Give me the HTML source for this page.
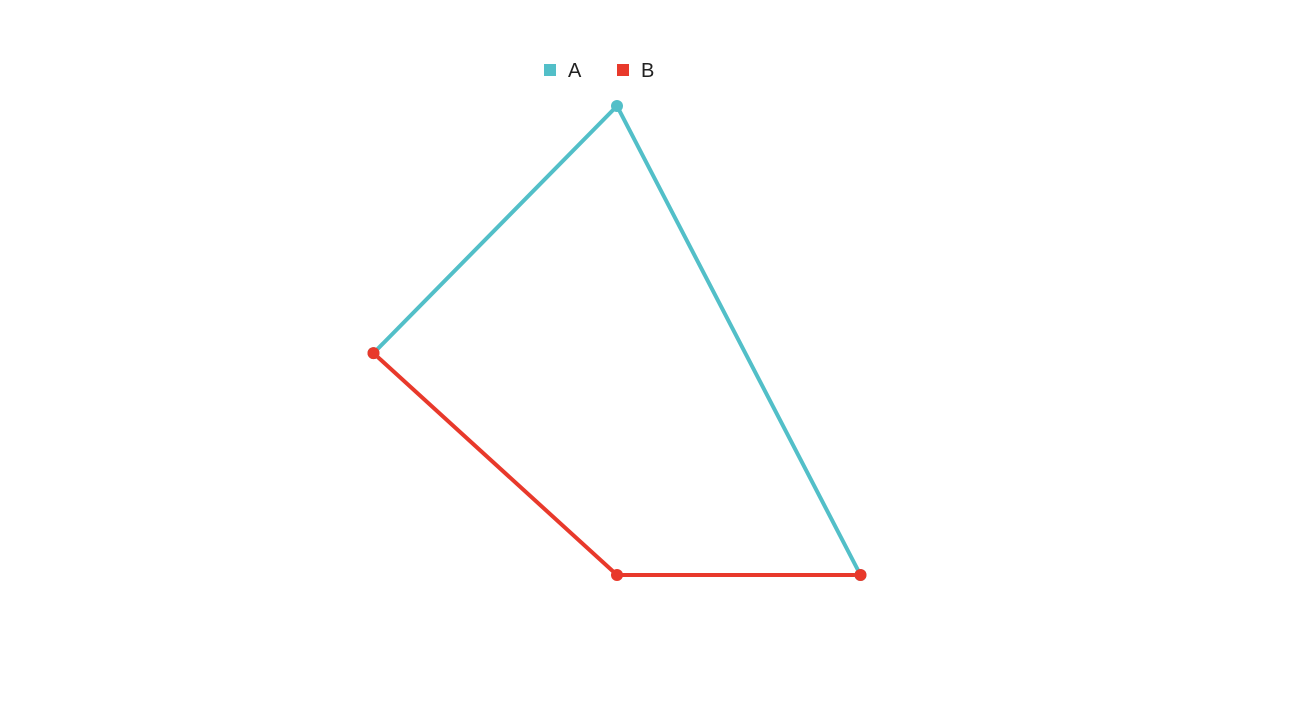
<!DOCTYPE html>
<html><head><meta charset="utf-8"><style>
html,body{margin:0;padding:0;background:#fff;}
svg{display:block;font-family:"Liberation Sans",sans-serif;}
</style></head><body>
<svg id="chart" width="1308" height="714">
<g>
<rect x="544" y="64" width="12" height="12" fill="#52bfc8"/>
<text x="568" y="77" font-size="20" fill="#222">A</text>
<rect x="617" y="64" width="12" height="12" fill="#e8392b"/>
<text x="641" y="77" font-size="20" fill="#222">B</text>
</g>
<g id="plot"></g>
</svg>
<script>
const categories = ["c1", "c2", "c3"];
const seriesA = [47.3, 100, 0];
const seriesB = [47.3, 0, 0];
const yMin = 0, yMax = 100;
const xPos = i => 373.5 + i * 243.5;
const yPos = v => 575 - (v - yMin) / (yMax - yMin) * 469;
const ns = "http://www.w3.org/2000/svg";
const plot = document.getElementById("plot");
function drawSeries(vals, color, key) {
  const pl = document.createElementNS(ns, "polyline");
  pl.setAttribute("points", vals.map((v, i) => xPos(i) + "," + yPos(v)).join(" "));
  pl.setAttribute("fill", "none");
  pl.setAttribute("stroke", color);
  pl.setAttribute("stroke-width", "4");
  
  
  plot.appendChild(pl);
  return vals.map((v, i) => {
    const c = document.createElementNS(ns, "circle");
    c.setAttribute("cx", xPos(i));
    c.setAttribute("cy", yPos(v));
    c.setAttribute("r", "6");
    c.setAttribute("fill", color);
    
    
    return c;
  });
}
const ptsA = drawSeries(seriesA, "#52bfc8", "a");
const ptsB = drawSeries(seriesB, "#e8392b", "b");
ptsA.forEach(c => plot.appendChild(c));
ptsB.forEach(c => plot.appendChild(c));
</script>
</body></html>
